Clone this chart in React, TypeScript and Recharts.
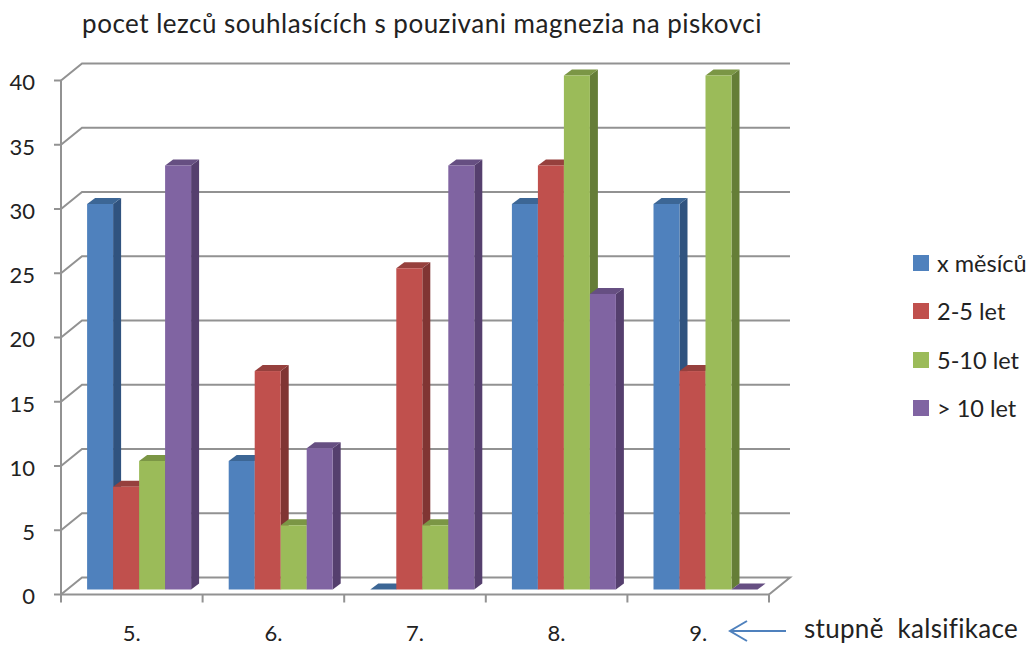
import { BarChart, Bar, XAxis, YAxis, CartesianGrid, Legend } from 'recharts'

const categories = ['5.', '6.', '7.', '8.', '9.']
const monthsValues = [30, 10, 0, 30, 30]
const years2to5Values = [8, 17, 25, 33, 17]
const years5to10Values = [10, 5, 5, 40, 40]
const over10Values = [33, 11, 33, 23, 0]
const yTicks = [0, 5, 10, 15, 20, 25, 30, 35, 40]

const chartData = categories.map((name, i) => ({
  name,
  months: monthsValues[i],
  y2to5: years2to5Values[i],
  y5to10: years5to10Values[i],
  over10: over10Values[i],
}))

const WIDTH = 1031
const HEIGHT = 646
const Y_AXIS_WIDTH = 61
const X_AXIS_HEIGHT = 51.5
const LEGEND_WIDTH = 118
// the legend reserves its own width on the right
const MARGIN = { top: 80.5, right: 262 - LEGEND_WIDTH, bottom: 0, left: 0 }
const PLOT_WIDTH = 708
const FLOOR_Y = HEIGHT - X_AXIS_HEIGHT
const FONT = 'Lato, sans-serif'
const TEXT = '#222'
const AXIS = '#929292'

// offset of the back wall from the front plane
const WALL_X = 21
const WALL_Y = 17
// bars stand a bit inside the floor
const BAR_SHIFT_X = 6.5
const BAR_SHIFT_Y = 5
const DEPTH_X = 8
const DEPTH_Y = 6

function wallLine(props: any) {
  const { x1, y1, x2, key } = props
  const backY = y1 - WALL_Y
  const isFloor = Math.abs(y1 - FLOOR_Y) < 1
  const points = [`${x1},${y1}`, `${x1 + WALL_X},${backY}`, `${x2 + WALL_X},${backY}`]
  if (isFloor) points.push(`${x2},${y1}`)
  return <polyline key={key} points={points.join(' ')} fill="none" stroke={AXIS} strokeWidth={2} />
}

function bar3d(side: string, top: string) {
  return (props: any) => {
    const { x, y, width, height, fill } = props
    const left = x + BAR_SHIFT_X
    const right = left + width
    const yTop = y - BAR_SHIFT_Y
    const yBottom = yTop + height
    return (
      <g>
        <polygon
          points={`${right},${yTop} ${right + DEPTH_X},${yTop - DEPTH_Y} ${right + DEPTH_X},${yBottom - DEPTH_Y} ${right},${yBottom}`}
          fill={side}
        />
        <polygon
          points={`${left},${yTop} ${left + DEPTH_X},${yTop - DEPTH_Y} ${right + DEPTH_X},${yTop - DEPTH_Y} ${right},${yTop}`}
          fill={top}
        />
        <rect x={left} y={yTop} width={width} height={height} fill={fill} />
      </g>
    )
  }
}

function CategoryTick(props: any) {
  const { x, payload, index } = props
  const band = PLOT_WIDTH / categories.length
  const tickLeft = x - band / 2
  const tickRight = x + band / 2
  return (
    <g>
      <line x1={tickLeft} y1={FLOOR_Y} x2={tickLeft} y2={FLOOR_Y + 8} stroke={AXIS} strokeWidth={2} />
      {index === categories.length - 1 && (
        <line x1={tickRight} y1={FLOOR_Y} x2={tickRight} y2={FLOOR_Y + 8} stroke={AXIS} strokeWidth={2} />
      )}
      <text x={x} y={641} textAnchor="middle" fontSize={22} fontFamily={FONT} fill={TEXT}>
        {payload.value}
      </text>
    </g>
  )
}

function SideLegend(props: any) {
  return (
    <div style={{ fontFamily: FONT, fontSize: 23.5, color: TEXT }}>
      {props.payload.map((item: any) => (
        <div key={item.value} style={{ display: 'flex', alignItems: 'center', height: 48.3 }}>
          <span style={{ width: 16, height: 16, background: item.color, marginRight: 8 }} />
          <span>{item.value}</span>
        </div>
      ))}
    </div>
  )
}

export default function App() {
  return (
    <div style={{ position: 'absolute', left: 0, top: 0 }}>
      <BarChart
        width={WIDTH}
        height={HEIGHT}
        data={chartData}
        margin={MARGIN}
        barGap={0}
        barCategoryGap={19.6}
      >
        <CartesianGrid vertical={false} horizontal={wallLine} />
        <XAxis
          dataKey="name"
          height={X_AXIS_HEIGHT}
          axisLine={{ stroke: AXIS, strokeWidth: 2 }}
          tickLine={false}
          tick={CategoryTick}
          interval={0}
        />
        <YAxis
          width={Y_AXIS_WIDTH}
          domain={[0, 40]}
          ticks={yTicks}
          interval={0}
          axisLine={{ stroke: AXIS, strokeWidth: 2 }}
          tickLine={{ stroke: AXIS, strokeWidth: 2 }}
          tickSize={7}
          tickMargin={19}
          tick={{ fontSize: 22, fontFamily: FONT, fill: TEXT, dy: 2 }}
        />
        <Legend
          layout="vertical"
          align="right"
          verticalAlign="top"
          content={SideLegend}
          itemSorter={null}
          wrapperStyle={{ left: 913, top: 239, width: LEGEND_WIDTH, right: 'auto' }}
        />
        <Bar dataKey="months" name="x měsíců" fill="#4F81BD" shape={bar3d('#30537F', '#3C6695')} isAnimationActive={false} />
        <Bar dataKey="y2to5" name="2-5 let" fill="#C0504D" shape={bar3d('#803533', '#96403D')} isAnimationActive={false} />
        <Bar dataKey="y5to10" name="5-10 let" fill="#9BBB59" shape={bar3d('#657D37', '#7B9645')} isAnimationActive={false} />
        <Bar dataKey="over10" name="> 10 let" fill="#8064A2" shape={bar3d('#553F6E', '#664F82')} isAnimationActive={false} />
        <text x={422} y={33} textAnchor="middle" fontSize={26} letterSpacing={0.5} fontFamily={FONT} fill={TEXT}>
          pocet lezců souhlasících s pouzivani magnezia na piskovci
        </text>
        <text x={804} y={638} fontSize={26} letterSpacing={0.3} fontFamily={FONT} fill={TEXT} xmlSpace="preserve">
          stupně  kalsifikace
        </text>
        <polyline points="747,621 730,631 747,641" fill="none" stroke="#4F81BD" strokeWidth={2} />
        <line x1={730} y1={631} x2={786} y2={631} stroke="#4F81BD" strokeWidth={2} />
      </BarChart>
    </div>
  )
}
